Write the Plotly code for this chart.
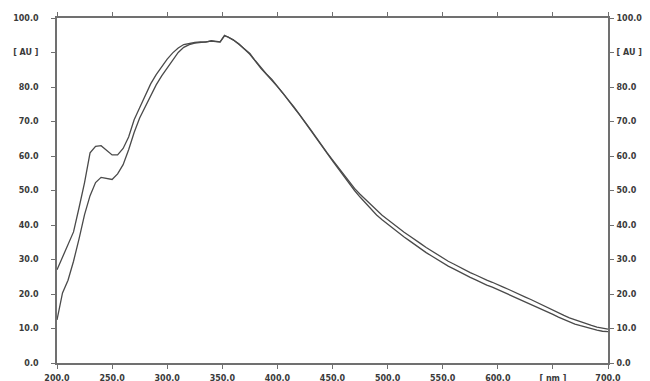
import plotly.graph_objects as go

# wavelength grid (nm)
wavelength = list(range(200, 350, 5)) + [348, 352] + list(range(355, 705, 5))

# spectrum 1 (upper at short wavelengths)
absorbance_1 = [
    27.0, 30.5, 34.0, 38.0, 45.0, 52.3, 60.9, 62.8, 63.0, 61.5,   # 200-245
    60.3, 60.3, 62.2, 65.5, 70.5, 74.0, 77.6, 80.9, 83.6, 86.0,   # 250-295
    88.1, 89.9, 91.3, 92.3, 92.7, 92.9, 93.1, 93.0, 93.4, 93.2,   # 300-345
    93.1, 95.0,                                                   # 348, 352
    94.6, 93.7, 92.4, 91.1, 89.7, 87.6, 85.6, 83.8, 82.2, 80.3,   # 355-400
    78.3, 76.2, 74.2, 72.2, 69.9, 67.7, 65.4, 63.3, 61.0, 58.9,   # 405-450
    56.8, 54.6, 52.6, 50.6, 48.9, 47.3, 45.7, 44.2, 42.8, 41.6,   # 455-500
    40.3, 39.2, 37.9, 36.8, 35.6, 34.6, 33.5, 32.5, 31.4, 30.5,   # 505-550
    29.5, 28.7, 27.8, 27.0, 26.2, 25.5, 24.7, 24.0, 23.4, 22.8,   # 555-600
    22.0, 21.3, 20.5, 19.8, 19.1, 18.4, 17.6, 16.8, 16.0, 15.3,   # 605-650
    14.5, 13.8, 13.1, 12.5, 11.9, 11.4, 10.9, 10.4, 10.1, 9.8,    # 655-700
]

# spectrum 2 (lower at short wavelengths)
absorbance_2 = [
    12.5, 20.3, 24.0, 29.5, 36.0, 43.0, 48.5, 52.3, 53.8, 53.6,   # 200-245
    53.2, 54.8, 57.5, 61.8, 66.8, 71.0, 74.3, 77.2, 80.6, 83.2,   # 250-295
    85.4, 87.9, 90.0, 91.5, 92.3, 92.7, 93.0, 93.1, 93.3, 93.1,   # 300-345
    93.0, 94.8,                                                   # 348, 352
    94.5, 93.6, 92.5, 91.0, 89.5, 87.5, 85.4, 83.7, 82.0, 80.1,   # 355-400
    78.2, 76.0, 74.0, 72.0, 69.7, 67.5, 65.2, 63.1, 60.8, 58.6,   # 405-450
    56.4, 54.2, 52.0, 50.0, 48.1, 46.3, 44.6, 42.9, 41.5, 40.2,   # 455-500
    38.9, 37.8, 36.5, 35.4, 34.2, 33.2, 32.0, 31.0, 30.0, 29.0,   # 505-550
    28.1, 27.3, 26.4, 25.6, 24.8, 24.1, 23.3, 22.6, 22.0, 21.3,   # 555-600
    20.6, 19.9, 19.2, 18.5, 17.7, 17.0, 16.2, 15.5, 14.8, 14.1,   # 605-650
    13.3, 12.6, 11.9, 11.3, 10.8, 10.3, 9.9, 9.5, 9.2, 9.1,       # 655-700
]

x_tickvals = [200, 250, 300, 350, 400, 450, 500, 550, 600, 650, 700]
x_ticktext = ["200.0", "250.0", "300.0", "350.0", "400.0", "450.0",
              "500.0", "550.0", "600.0", "[ nm ]", "700.0"]
y_tickvals = [0, 10, 20, 30, 40, 50, 60, 70, 80, 90, 100]
y_ticktext = ["0.0", "10.0", "20.0", "30.0", "40.0", "50.0",
              "60.0", "70.0", "80.0", "[ AU ]", "100.0"]

line_color = "#4a4a4a"
axis_color = "#707070"
tick_font = dict(family="DejaVu Sans, sans-serif", size=8, color="#3a3a3a", weight="bold")

common_axis = dict(showgrid=False, zeroline=False, showline=True, linecolor=axis_color,
                   linewidth=1.8, ticks="outside", ticklen=4, tickwidth=1.2,
                   tickcolor=axis_color, automargin=False, tickfont=tick_font)

fig = go.Figure()
fig.add_trace(go.Scatter(x=wavelength, y=absorbance_1, mode="lines",
                         line=dict(color=line_color, width=1.3), showlegend=False))
fig.add_trace(go.Scatter(x=wavelength, y=absorbance_2, mode="lines",
                         line=dict(color=line_color, width=1.3), showlegend=False))
# same data on the right-hand axis (transparent) so that axis renders
fig.add_trace(go.Scatter(x=wavelength, y=absorbance_2, mode="lines", yaxis="y2",
                         line=dict(color="rgba(0,0,0,0)", width=0), showlegend=False,
                         hoverinfo="skip"))

fig.update_layout(
    width=642, height=373,
    margin=dict(l=49, r=42, t=10, b=18),
    paper_bgcolor="white", plot_bgcolor="white",
    xaxis=dict(range=[200, 700], tickvals=x_tickvals, ticktext=x_ticktext,
               mirror="allticks", ticklabelstandoff=2, **common_axis),
    yaxis=dict(range=[0, 100], tickvals=y_tickvals, ticktext=y_ticktext,
               ticklabelstandoff=11, **common_axis),
    yaxis2=dict(range=[0, 100], tickvals=y_tickvals, ticktext=y_ticktext,
                overlaying="y", side="right", ticklabelstandoff=1, **common_axis),
)

fig.write_html("out.html")
